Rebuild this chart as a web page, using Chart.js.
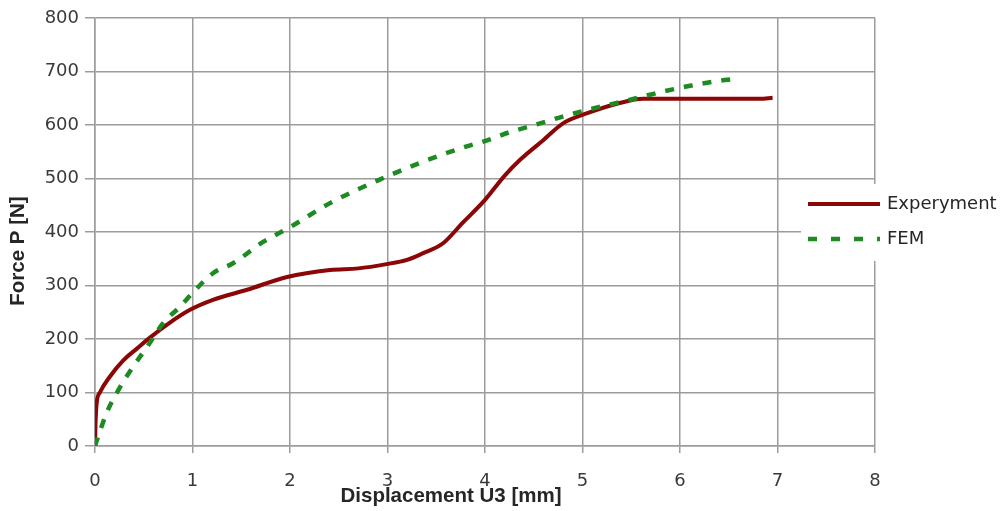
<!DOCTYPE html>
<html>
<head>
<meta charset="utf-8">
<script src="https://cdn.jsdelivr.net/npm/chart.js@4"></script>
<style>
  html, body { margin: 0; padding: 0; background: #fff; }
  canvas { display: block; }
</style>
</head>
<body>
<canvas id="c" width="1000" height="511"></canvas>
<script>
// data
const expX = [0, 0.005, 0.017, 0.05, 0.15, 0.29, 0.43, 0.56, 0.74, 0.97, 1.21, 1.56, 1.97, 2.41, 2.7, 2.99, 3.2, 3.36, 3.57, 3.77, 4.0, 4.2, 4.36, 4.6, 4.8, 5.05, 5.38, 5.62, 6.0, 6.5, 6.82, 6.95];
const expY = [0, 40, 80, 100, 129, 160, 182, 202, 227, 254, 273, 292, 316, 329, 332, 340, 348, 360, 379, 417, 460, 505, 535, 572, 603, 622, 641, 649, 649, 649, 649, 651];
const femX = [0, 0.02, 0.12, 0.26, 0.39, 0.56, 0.7, 0.87, 1.0, 1.21, 1.42, 1.72, 2.0, 2.41, 2.92, 3.33, 3.76, 4.0, 4.26, 4.53, 4.82, 5.13, 5.44, 5.79, 6.15, 6.46, 6.56];
const femY = [0, 11, 62, 111, 148, 192, 230, 260, 286, 323, 342, 381, 409, 454, 498, 529, 557, 570, 587, 601, 617, 632, 645, 661, 675, 684, 686];
const xTicks = [0, 1, 2, 3, 4, 5, 6, 7, 8];
const yTicks = [0, 100, 200, 300, 400, 500, 600, 700, 800];
const seriesNames = ['Experyment', 'FEM'];
const xTitle = 'Displacement U3 [mm]';
const yTitle = 'Force P [N]';

const pts = (xs, ys) => xs.map((x, i) => ({ x, y: ys[i] }));
const gridCol = '#9c9c9c';
const txtCol = '#3a3a3a';
const expCol = '#8b0606';
const femCol = '#1d8a22';

// little line samples used as legend symbols
function sample(color, width, dash) {
  const cv = document.createElement('canvas');
  cv.width = 72; cv.height = 8;
  const g = cv.getContext('2d');
  g.strokeStyle = color; g.lineWidth = width; g.setLineDash(dash);
  g.beginPath(); g.moveTo(0, 4); g.lineTo(72, 4); g.stroke();
  return cv;
}

// legend sits over the right edge of the plot on a white patch; titles off-centre like the original
const legendBox = {
  id: 'legendBox',
  afterLayout(chart) {
    chart.legend.left = 793;
    chart.legend.top = 178;
  },
  afterDatasetsDraw(chart) {
    const c = chart.ctx;
    c.save();
    c.fillStyle = '#fff';
    c.fillRect(801, 184, 199, 77);
    c.restore();
    chart.legend.draw();
  },
  afterDraw(chart) {
    const c = chart.ctx;
    c.save();
    c.fillStyle = '#262626';
    c.font = 'bold 20.5px "Liberation Sans"';
    c.textAlign = 'center';
    c.textBaseline = 'middle';
    c.fillText(xTitle, 451, 496);
    c.translate(18, 251);
    c.rotate(-Math.PI / 2);
    c.fillText(yTitle, 0, 0);
    c.restore();
  }
};

new Chart(document.getElementById('c').getContext('2d'), {
  type: 'scatter',
  data: {
    datasets: [
      { label: seriesNames[0], data: pts(expX, expY), showLine: true, borderColor: expCol, backgroundColor: expCol,
        borderWidth: 4, pointRadius: 0, pointStyle: sample(expCol, 4, []), cubicInterpolationMode: 'monotone', order: 1 },
      { label: seriesNames[1], data: pts(femX, femY), showLine: true, borderColor: femCol, backgroundColor: femCol,
        borderWidth: 4.5, borderDash: [9, 10], pointRadius: 0, pointStyle: sample(femCol, 4.5, [9, 14]),
        cubicInterpolationMode: 'monotone', order: 0 },
    ],
  },
  options: {
    responsive: false,
    animation: false,
    layout: { padding: { top: 18, left: 0, right: 0, bottom: 0 } },
    plugins: {
      tooltip: { enabled: false },
      legend: {
        position: 'right',
        maxWidth: 125,
        align: 'start',
        labels: {
          usePointStyle: true,
          pointStyleWidth: 68,
          padding: 17,
          color: '#262626',
          font: { family: 'DejaVu Sans', size: 18 },
          sort: (a, b) => a.datasetIndex - b.datasetIndex,
        },
      },
    },
    scales: {
      x: {
        type: 'linear', min: 0, max: 8,
        afterBuildTicks: (s) => { s.ticks = xTicks.map((v) => ({ value: v })); },
        afterFit: (s) => { s.height = 65; s.paddingLeft = 0; s.paddingRight = 0; },
        grid: { color: gridCol, lineWidth: 1.5, tickLength: 7 },
        border: { color: gridCol, width: 1.5 },
        ticks: { color: txtCol, padding: 18, maxRotation: 0, font: { family: 'DejaVu Sans', size: 18 } },
      },
      y: {
        type: 'linear', min: 0, max: 800,
        afterBuildTicks: (s) => { s.ticks = yTicks.map((v) => ({ value: v })); },
        afterFit: (s) => { s.width = 95; s.paddingTop = 0; s.paddingBottom = 0; },
        grid: { color: gridCol, lineWidth: 1.5, tickLength: 10 },
        border: { color: gridCol, width: 1.5 },
        ticks: { color: txtCol, padding: 6, font: { family: 'DejaVu Sans', size: 18 } },
      },
    },
  },
  plugins: [legendBox],
});
</script>
</body>
</html>
